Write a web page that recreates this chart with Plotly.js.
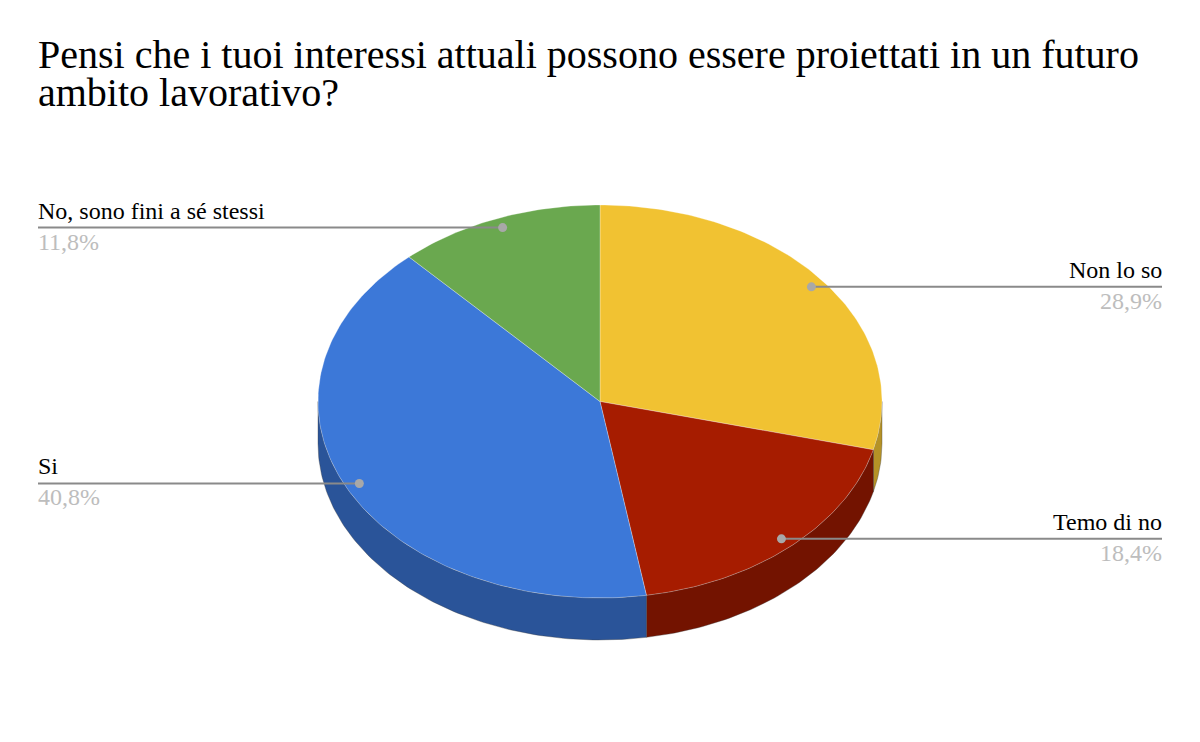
<!DOCTYPE html>
<html>
<head>
<meta charset="utf-8">
<script src="https://cdn.plot.ly/plotly-3.0.1.min.js"></script>
<style>html,body{margin:0;padding:0;background:#fff;}#chart{width:1200px;height:742px;}</style>
</head>
<body>
<div id="chart"></div>
<script>
// ---- data ----
const titleLines = ["Pensi che i tuoi interessi attuali possono essere proiettati in un futuro", "ambito lavorativo?"];
const categories = ["Non lo so", "Temo di no", "Si", "No, sono fini a sé stessi"];
const counts = [22, 14, 31, 9];
const colors = ["#f1c232", "#a61c00", "#3c78d8", "#6aa84f"];
const sideColors = ["#b59226", "#731300", "#2a5499", "#4f7e3b"];

// ---- geometry (style) ----
const CX = 600, CY = 401.5, RX = 282, RY = 196.5, DEPTH = 42;
const LEFT_X = 38, RIGHT_X = 1162;
const serif = "Liberation Serif";

const total = counts.reduce((a, b) => a + b, 0);
function pt(deg, r) {
  const t = deg * Math.PI / 180;
  return [CX + RX * r * Math.sin(t), CY - RY * r * Math.cos(t)];
}
function arc(a, b) {
  const pts = [];
  const n = Math.max(2, Math.ceil(b - a));
  for (let i = 0; i <= n; i++) pts.push(pt(a + (b - a) * i / n, 1));
  return pts;
}

const traces = [];
const annotations = [];
const starts = [];
let cum = 0;
counts.forEach((v) => { starts.push([cum / total * 360, (cum + v) / total * 360]); cum += v; });

// side walls (front half: 90..270 deg)
starts.forEach(([a, b], i) => {
  const s = Math.max(a, 90), e = Math.min(b, 270);
  if (e <= s) return;
  const top = arc(s, e);
  const bot = top.map(p => [p[0], p[1] + DEPTH]).reverse();
  const poly = top.concat(bot);
  poly.push(top[0]);
  traces.push({
    type: "scatter", mode: "lines", fill: "toself",
    x: poly.map(p => p[0]), y: poly.map(p => p[1]),
    fillcolor: sideColors[i], line: {color: "rgba(60,60,60,0.35)", width: 1},
    hoverinfo: "skip", showlegend: false
  });
});

// top faces
starts.forEach(([a, b], i) => {
  const poly = [[CX, CY]].concat(arc(a, b));
  poly.push([CX, CY]);
  traces.push({
    type: "scatter", mode: "lines", fill: "toself",
    x: poly.map(p => p[0]), y: poly.map(p => p[1]),
    fillcolor: colors[i], line: {color: "rgba(255,255,255,0.28)", width: 1},
    hoverinfo: "skip", showlegend: false, name: categories[i]
  });
});

// leader lines, dots, labels
starts.forEach(([a, b], i) => {
  const mid = (a + b) / 2;
  const d = pt(mid, 0.95);
  const right = Math.sin(mid * Math.PI / 180) > 0;
  const endX = right ? RIGHT_X : LEFT_X;
  traces.push({
    type: "scatter", mode: "lines", x: [d[0], endX], y: [d[1], d[1]],
    line: {color: "#8a8a8a", width: 2}, hoverinfo: "skip", showlegend: false
  });
  traces.push({
    type: "scatter", mode: "markers", x: [d[0]], y: [d[1]],
    marker: {color: "#a8a8a8", size: 9}, hoverinfo: "skip", showlegend: false
  });
  const pct = (counts[i] / total * 100).toFixed(1).replace(".", ",") + "%";
  annotations.push({
    x: endX, y: d[1] - 2, xref: "x", yref: "y", text: categories[i], showarrow: false,
    xanchor: right ? "right" : "left", yanchor: "bottom",
    font: {family: serif, size: 24, color: "#000"}, xshift: right ? 2 : -2
  });
  annotations.push({
    x: endX, y: d[1] - 1, xref: "x", yref: "y", text: pct, showarrow: false,
    xanchor: right ? "right" : "left", yanchor: "top",
    font: {family: serif, size: 24, color: "#bdbdbd"}, xshift: right ? 2 : -2
  });
});

// title (two lines, tight line spacing as in the original)
const titleBottoms = [79, 117];
titleLines.forEach((t, k) => {
  annotations.push({
    x: LEFT_X, y: titleBottoms[k], xref: "x", yref: "y", text: t, showarrow: false,
    xanchor: "left", yanchor: "bottom", xshift: -2,
    font: {family: serif, size: 40, color: "#000"}
  });
});

const layout = {
  width: 1200, height: 742,
  margin: {l: 0, r: 0, t: 0, b: 0},
  paper_bgcolor: "#fff", plot_bgcolor: "#fff",
  font: {family: serif},
  xaxis: {range: [0, 1200], visible: false, fixedrange: true},
  yaxis: {range: [742, 0], visible: false, fixedrange: true},
  annotations: annotations,
  showlegend: false
};
Plotly.newPlot("chart", traces, layout, {displayModeBar: false, staticPlot: true});
</script>
</body>
</html>
